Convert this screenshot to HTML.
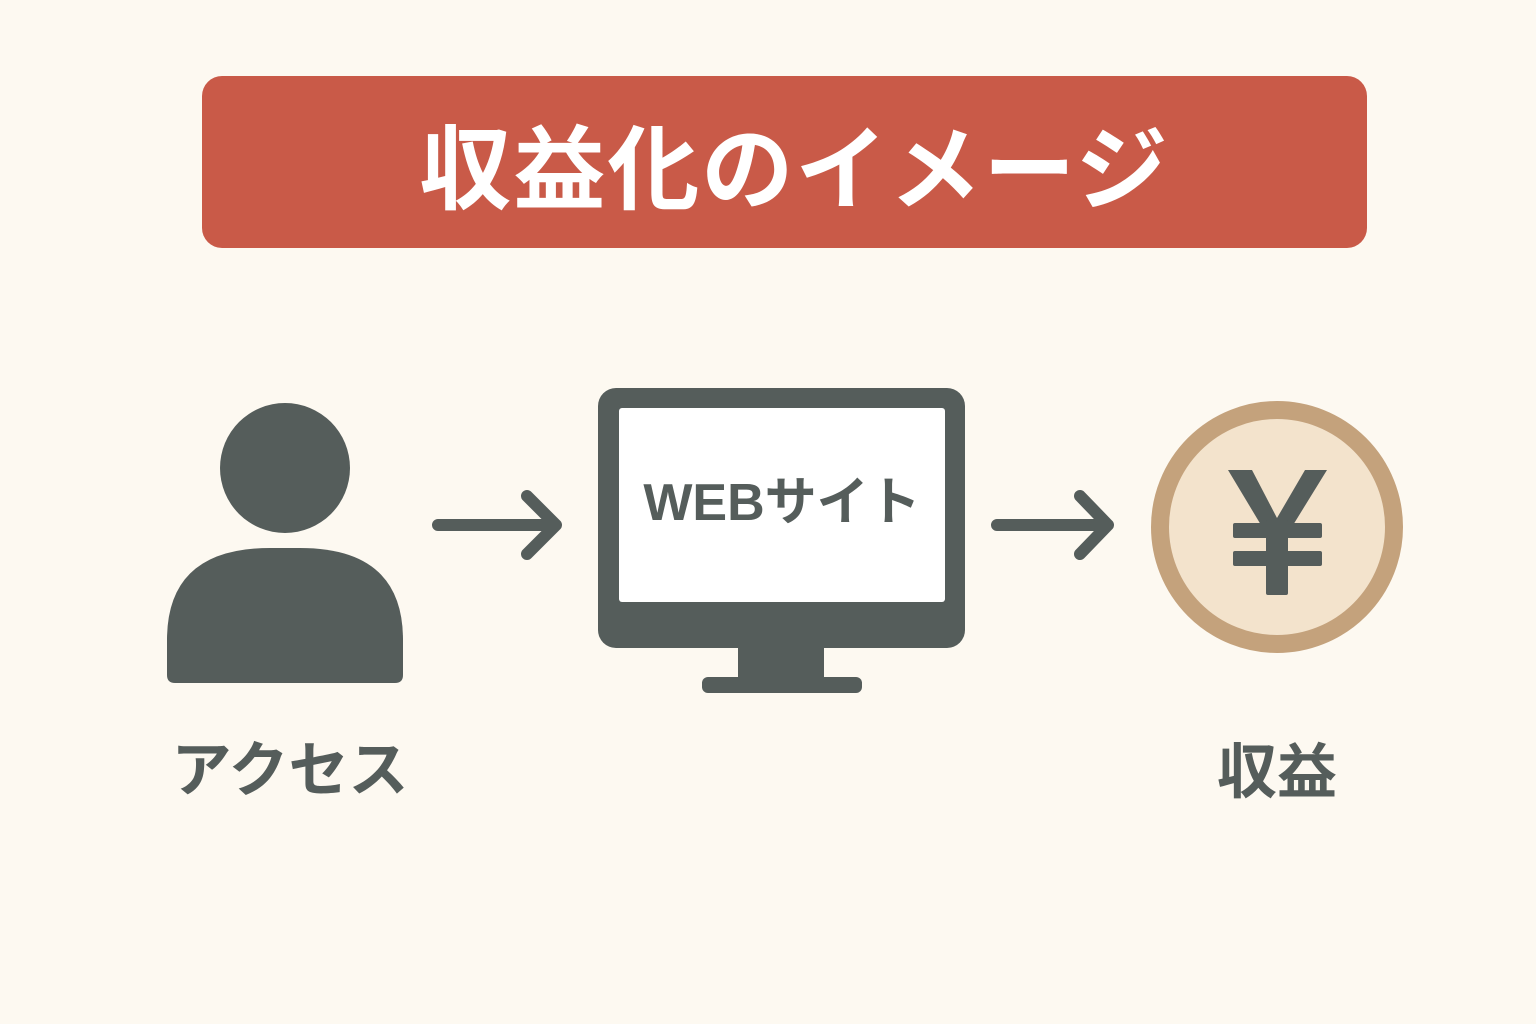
<!DOCTYPE html>
<html><head><meta charset="utf-8"><style>
body{margin:0;width:1536px;height:1024px;background:#fdf9f1;overflow:hidden;position:relative;font-family:"Liberation Sans","Noto Sans CJK JP",sans-serif}
.t{position:absolute;font-weight:700;text-align:center;white-space:nowrap}
</style></head><body>
<div style="position:absolute;left:202px;top:76px;width:1165px;height:172px;background:#c95a48;border-radius:20px"></div>
<div class="t" style="left:212px;width:1165px;top:116px;font-size:92px;line-height:110px;color:#fff;letter-spacing:2px">収益化のイメージ</div>
<svg width="1536" height="1024" style="position:absolute;left:0;top:0">
<g fill="#555d5b">
<circle cx="285" cy="468" r="65"/>
<path d="M167 640 Q167 548 270 548 L300 548 Q403 548 403 640 L403 675 Q403 683 395 683 L175 683 Q167 683 167 675 Z"/>
<rect x="598" y="388" width="367" height="260" rx="18"/>
<rect x="738" y="640" width="86" height="42"/>
<rect x="702" y="677" width="160" height="16" rx="6"/>
</g>
<rect x="619" y="408" width="326" height="194" fill="#fff" rx="3"/>
<g stroke="#555d5b" stroke-width="12" stroke-linecap="round" stroke-linejoin="round" fill="none">
<path d="M438 525 H556 M527 496 L556 525 L527 554"/>
<path d="M997 525 H1108 M1080 496 L1108 525 L1080 554"/>
</g>
<circle cx="1277" cy="527" r="117" fill="#f3e3cc" stroke="#c4a27c" stroke-width="18"/>
<g fill="#555d5b">
<path d="M1228 470 L1252 470 L1277 518 L1305 470 L1327 470 L1290 530 L1264 530 Z"/>
<rect x="1233" y="523" width="89" height="15" rx="2"/>
<rect x="1233" y="551" width="89" height="15" rx="2"/>
<rect x="1266" y="520" width="22" height="75" rx="2"/>
</g>
</svg>
<div class="t" style="left:619px;width:326px;top:470px;font-size:52px;line-height:66px;color:#555d5b">WEBサイト</div>
<div class="t" style="left:140px;width:300px;top:736px;font-size:60px;line-height:70px;color:#555d5b">アクセス</div>
<div class="t" style="left:1127px;width:300px;top:738px;font-size:60px;line-height:70px;color:#555d5b">収益</div>
</body></html>
